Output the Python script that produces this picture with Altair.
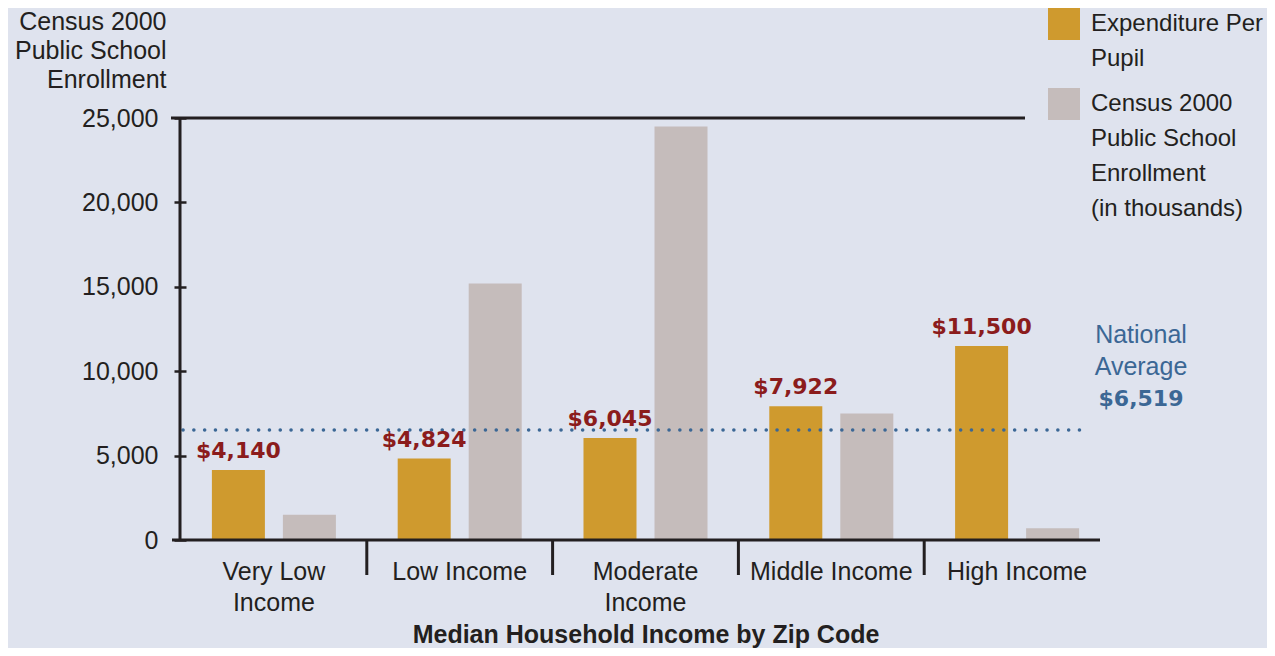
import altair as alt
import pandas as pd

categories = ["Very Low|Income", "Low Income", "Moderate|Income", "Middle Income", "High Income"]
series = ["Expenditure Per|Pupil", "Census 2000|Public School|Enrollment|(in thousands)"]
expenditure = [4140, 4824, 6045, 7922, 11500]
enrollment = [1500, 15200, 24500, 7500, 700]
expenditure_labels = ["$4,140", "$4,824", "$6,045", "$7,922", "$11,500"]
y_ticks = [0, 5000, 10000, 15000, 20000, 25000]
y_max = 25000
national_average = 6519
national_average_words = ["National", "Average"]
national_average_label = "$6,519"
y_title = ["Census 2000", "Public School", "Enrollment"]
x_title = "Median Household Income by Zip Code"

BG = "#dfe3ee"
GOLD = "#cf9a2e"
GRAY = "#c5bcbb"
RED = "#8b1c1c"
BLUE = "#3b6795"
DARK = "#231f20"
FONT = "Liberation Sans"
BOLD_FONT = "DejaVu Sans"

W, H = 929, 422

bars_df = pd.DataFrame({
    "category": categories * 2,
    "series": [series[0]] * len(categories) + [series[1]] * len(categories),
    "value": expenditure + enrollment,
})
labels_df = pd.DataFrame({
    "category": categories,
    "series": [series[0]] * len(categories),
    "value": expenditure,
    "label": expenditure_labels,
})
sep_df = pd.DataFrame({"category": categories[1:]})
one = pd.DataFrame({"v": [0]})

x_scale = alt.Scale(domain=categories, paddingInner=0, paddingOuter=0)
xo_scale = alt.Scale(domain=series, paddingInner=0.2535, paddingOuter=0.435)
y_scale = alt.Scale(domain=[0, y_max], nice=False)

x_axis = alt.Axis(domain=False, ticks=False, tickSize=0, labelAngle=0,
                  labelExpr="split(datum.label, '|')",
                  labelFont=FONT, labelFontSize=25, labelColor=DARK,
                  labelLineHeight=31, labelBaseline="top", labelPadding=19,
                  title=x_title, titleFont=FONT, titleFontSize=25,
                  titleFontWeight="bold", titleColor=DARK,
                  titleBaseline="alphabetic", titleY=102)
y_axis = alt.Axis(values=y_ticks, format=",",
                  labelExpr="format(datum.value, ',')",
                  domain=False, grid=False,
                  tickSize=12, offset=-5, tickWidth=2.5, tickColor=DARK,
                  labelPadding=16, labelFont=FONT, labelFontSize=25,
                  labelColor=DARK,
                  title=y_title, titleAngle=0, titleAlign="right",
                  titleBaseline="top", titleX=-20, titleY=-109,
                  titleFont=FONT, titleFontSize=25, titleFontWeight="normal",
                  titleColor=DARK, titleLineHeight=29)

bars = alt.Chart(bars_df).mark_bar().encode(
    x=alt.X("category:N", scale=x_scale, sort=categories, axis=x_axis),
    xOffset=alt.XOffset("series:N", scale=xo_scale, sort=series),
    y=alt.Y("value:Q", scale=y_scale, axis=y_axis),
    color=alt.Color("series:N",
                    scale=alt.Scale(domain=series, range=[GOLD, GRAY]),
                    legend=alt.Legend(title=None, orient="none", legendX=867, legendY=-110,
                                      symbolType="square", symbolSize=1024,
                                      symbolStrokeWidth=0, symbolOpacity=1,
                                      labelExpr="split(datum.label, '|')",
                                      labelFont=FONT, labelFontSize=24, labelColor=DARK,
                                      labelOffset=11, labelBaseline="middle",
                                      labelLimit=400, rowPadding=17, padding=0)),
)

y_line = alt.Chart(one).mark_rule(color=DARK, strokeWidth=3).encode(
    x=alt.value(-1), y=alt.datum(0), y2=alt.datum(y_max))
top_line = alt.Chart(one).mark_rule(color=DARK, strokeWidth=3).encode(
    y=alt.datum(y_max), x=alt.value(-10), x2=alt.value(844))
x_line = alt.Chart(one).mark_rule(color=DARK, strokeWidth=3).encode(
    y=alt.datum(0), x=alt.value(-9), x2=alt.value(919))
seps = alt.Chart(sep_df).mark_rule(color=DARK, strokeWidth=3).encode(
    x=alt.X("category:N", scale=x_scale, sort=categories, bandPosition=0, axis=x_axis),
    y=alt.value(H), y2=alt.value(H + 35))

avg_line = alt.Chart(one).mark_rule(color=BLUE, strokeWidth=3.5, strokeDash=[0.1, 10.7],
                                    strokeCap="round").encode(
    y=alt.datum(national_average), x=alt.value(2), x2=alt.value(908))

value_labels = alt.Chart(labels_df).mark_text(
    font=BOLD_FONT, fontWeight="bold", fontSize=22, color=RED, baseline="middle", dy=-19
).encode(
    x=alt.X("category:N", scale=x_scale, sort=categories, axis=x_axis),
    xOffset=alt.XOffset("series:N", scale=xo_scale, sort=series),
    y=alt.Y("value:Q", scale=y_scale, axis=y_axis),
    text="label:N",
)

avg_words = alt.Chart(one).mark_text(
    text=national_average_words, lineHeight=32, font=FONT, fontSize=25, color=BLUE,
    align="center", baseline="middle", dy=-95
).encode(x=alt.value(960), y=alt.datum(national_average))

avg_value = alt.Chart(one).mark_text(
    text=national_average_label, font=BOLD_FONT, fontWeight="bold", fontSize=22,
    color=BLUE, align="center", baseline="middle", dy=-31
).encode(x=alt.value(960), y=alt.datum(national_average))

chart = alt.layer(
    bars, avg_line, y_line, top_line, x_line, seps, value_labels, avg_words, avg_value
).properties(
    width=W, height=H, background=BG,
    padding={"left": 173, "top": 110, "right": 157, "bottom": 108},
    autosize=alt.AutoSizeParams(type="none"),
).configure(
    style={"guide-label": {"lineHeight": 35}},
    view=alt.ViewConfig(stroke=None),
)

chart.save("out.html", embed_options={"renderer": "svg", "actions": False})
